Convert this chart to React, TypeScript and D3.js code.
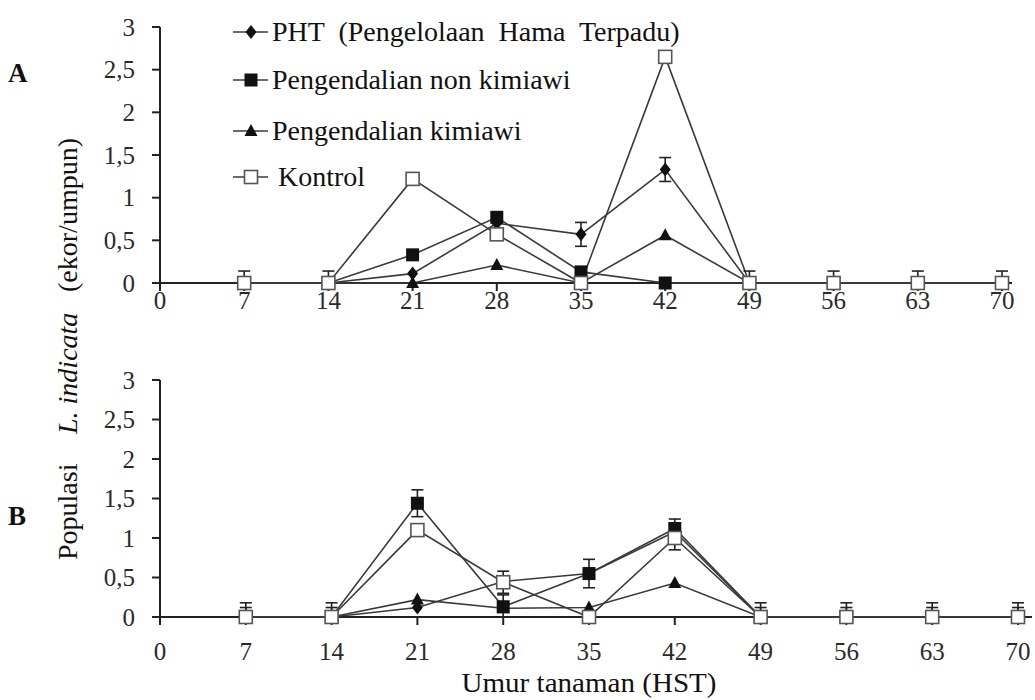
import React from "react";
import * as d3 from "d3";

const days = [7, 14, 21, 28, 35, 42, 49, 56, 63, 70];
const xTicks = [0, 7, 14, 21, 28, 35, 42, 49, 56, 63, 70];
const yTicks = [0, 0.5, 1, 1.5, 2, 2.5, 3];
const yTickLabels = ["0", "0,5", "1", "1,5", "2", "2,5", "3"];
const seriesNames = [
  "PHT (Pengelolaan Hama Terpadu)",
  "Pengendalian non kimiawi",
  "Pengendalian kimiawi",
  "Kontrol",
];

// Panel A
const aPHT = [0, 0, 0.11, 0.7, 0.57, 1.33, 0, 0, 0, 0];
const aNonKimiawi = [0, 0, 0.33, 0.77, 0.13, 0, 0, 0, 0, 0];
const aKimiawi = [0, 0, 0, 0.21, 0, 0.56, 0, 0, 0, 0];
const aKontrol = [0, 0, 1.22, 0.57, 0, 2.65, 0, 0, 0, 0];
const aPHTErr = [0, 0, 0, 0, 0.14, 0.14, 0, 0, 0, 0];
const aNonKimiawiErr = [0, 0, 0, 0, 0, 0, 0, 0, 0, 0];
const aKimiawiErr = [0, 0, 0, 0, 0, 0, 0, 0, 0, 0];
const aKontrolErr = [0.14, 0.14, 0, 0, 0, 0, 0.14, 0.14, 0.14, 0.14];

// Panel B
const bPHT = [0, 0, 0.12, 0.45, 0.55, 1.08, 0, 0, 0, 0];
const bNonKimiawi = [0, 0, 1.44, 0.13, 0.55, 1.12, 0, 0, 0, 0];
const bKimiawi = [0, 0, 0.22, 0.11, 0.12, 0.43, 0, 0, 0, 0];
const bKontrol = [0, 0, 1.1, 0.44, 0, 1.0, 0, 0, 0, 0];
const bPHTErr = [0.12, 0.12, 0, 0, 0, 0, 0.12, 0.12, 0.12, 0.12];
const bNonKimiawiErr = [0, 0, 0.17, 0.15, 0.18, 0.12, 0, 0, 0, 0];
const bKimiawiErr = [0, 0, 0, 0, 0, 0, 0, 0, 0, 0];
const bKontrolErr = [0.18, 0.18, 0, 0.14, 0, 0.15, 0.18, 0.18, 0.18, 0.18];

const FONT = '"Liberation Serif", "Times New Roman", Times, serif';
const LINE = "#3a3a3a";

type Kind = "diamond" | "square" | "triangle" | "open";

function Marker({ kind, x, y }: { kind: Kind; x: number; y: number }) {
  if (kind === "diamond") {
    return <path d={`M${x},${y - 7}L${x + 5.5},${y}L${x},${y + 7}L${x - 5.5},${y}Z`} fill="#111" />;
  }
  if (kind === "square") {
    return <rect x={x - 6.5} y={y - 6.5} width={13} height={13} fill="#111" />;
  }
  if (kind === "triangle") {
    return <path d={`M${x},${y - 7}L${x + 6.5},${y + 5}L${x - 6.5},${y + 5}Z`} fill="#111" />;
  }
  return <rect x={x - 6.5} y={y - 6.5} width={13} height={13} fill="#fff" stroke="#555" strokeWidth={1.6} />;
}

type Series = { kind: Kind; values: number[]; err: number[] };

function Panel({
  series,
  x,
  y,
  axisEnd,
  labelBaseline,
}: {
  series: Series[];
  x: d3.ScaleLinear<number, number>;
  y: d3.ScaleLinear<number, number>;
  axisEnd: number;
  labelBaseline: number;
}) {
  const line = d3
    .line<number>()
    .x((_, i) => x(days[i]))
    .y((d) => y(d));
  const x0 = x(0);
  const y0 = y(0);
  return (
    <g>
      <line x1={x0} x2={x0} y1={y(3)} y2={y0 + 8} stroke="#222" strokeWidth={2} />
      <line x1={x0} x2={axisEnd} y1={y0} y2={y0} stroke="#222" strokeWidth={2} />
      {yTicks.map((t, i) => (
        <g key={"yt" + i}>
          <line x1={x0 - 8} x2={x0} y1={y(t)} y2={y(t)} stroke="#222" strokeWidth={2} />
          <text
            x={x0 - 25}
            y={y(t)}
            dy="0.35em"
            textAnchor="end"
            style={{ fontFamily: FONT }}
            fontSize={25}
            fill="#2a2a2a"
          >
            {yTickLabels[i]}
          </text>
        </g>
      ))}
      {xTicks.map((t) => (
        <g key={"xt" + t}>
          <line x1={x(t)} x2={x(t)} y1={y0} y2={y0 + 8} stroke="#222" strokeWidth={2} />
          <text
            x={x(t)}
            y={labelBaseline}
            textAnchor="middle"
            style={{ fontFamily: FONT }}
            fontSize={25}
            fill="#2a2a2a"
          >
            {t}
          </text>
        </g>
      ))}
      {series.map((s, si) => (
        <path key={"l" + si} d={line(s.values) || ""} fill="none" stroke={LINE} strokeWidth={1.6} />
      ))}
      {series.map((s, si) =>
        s.values.map((v, i) => {
          const e = s.err[i];
          if (!e) return null;
          const cx = x(days[i]);
          const top = y(v + e);
          const bot = y(Math.max(0, v - e));
          const showBot = v - e > 0;
          return (
            <g key={"e" + si + "-" + i} stroke="#222" strokeWidth={1.6}>
              <line x1={cx} x2={cx} y1={top} y2={bot} />
              <line x1={cx - 6} x2={cx + 6} y1={top} y2={top} />
              {showBot && <line x1={cx - 6} x2={cx + 6} y1={bot} y2={bot} />}
            </g>
          );
        })
      )}
      {series.map((s, si) =>
        s.values.map((v, i) => <Marker key={"m" + si + "-" + i} kind={s.kind} x={x(days[i])} y={y(v)} />)
      )}
    </g>
  );
}

export default function App() {
  const xA = d3.scaleLinear().domain([0, 70]).range([160, 1002]);
  const yA = d3.scaleLinear().domain([0, 3]).range([283, 27]);
  const xB = d3.scaleLinear().domain([0, 70]).range([160, 1018]);
  const yB = d3.scaleLinear().domain([0, 3]).range([617, 380]);

  const seriesA: Series[] = [
    { kind: "diamond", values: aPHT, err: aPHTErr },
    { kind: "triangle", values: aKimiawi, err: aKimiawiErr },
    { kind: "square", values: aNonKimiawi, err: aNonKimiawiErr },
    { kind: "open", values: aKontrol, err: aKontrolErr },
  ];
  const seriesB: Series[] = [
    { kind: "diamond", values: bPHT, err: bPHTErr },
    { kind: "square", values: bNonKimiawi, err: bNonKimiawiErr },
    { kind: "triangle", values: bKimiawi, err: bKimiawiErr },
    { kind: "open", values: bKontrol, err: bKontrolErr },
  ];

  const legendKinds: Kind[] = ["diamond", "square", "triangle", "open"];
  const legendY = [32, 80, 131, 177];
  const legendTextX = [272, 272, 272, 278];
  const legendWordSpacing = [7, 0, 0, 0];

  return (
    <div style={{ position: "fixed", left: 0, top: 0 }}>
      <svg width={1035} height={700} style={{ display: "block", background: "#fff" }}>
        <Panel series={seriesA} x={xA} y={yA} axisEnd={1012} labelBaseline={309} />
        <Panel series={seriesB} x={xB} y={yB} axisEnd={1032} labelBaseline={660} />

        {seriesNames.map((name, i) => (
          <g key={"lg" + i}>
            <line x1={233} x2={268} y1={legendY[i]} y2={legendY[i]} stroke={LINE} strokeWidth={1.6} />
            <Marker kind={legendKinds[i]} x={251} y={legendY[i]} />
            <text
              x={legendTextX[i]}
              y={legendY[i] + 9}
              style={{ fontFamily: FONT, wordSpacing: legendWordSpacing[i] + "px" }}
              fontSize={28}
              fill="#111"
            >
              {name}
            </text>
          </g>
        ))}

        <text x={8} y={82} style={{ fontFamily: FONT }} fontSize={27} fontWeight="bold" fill="#111">
          A
        </text>
        <text x={8} y={525} style={{ fontFamily: FONT }} fontSize={27} fontWeight="bold" fill="#111">
          B
        </text>

        <g style={{ fontFamily: FONT }} fontSize={28} fill="#111">
          <text transform="translate(77,560) rotate(-90)" textAnchor="start">
            Populasi
          </text>
          <text transform="translate(77,434) rotate(-90)" textAnchor="start" fontStyle="italic">
            L. indicata
          </text>
          <text transform="translate(77,138) rotate(-90)" textAnchor="end">
            (ekor/umpun)
          </text>
        </g>

        <text
          x={589}
          y={692}
          textAnchor="middle"
          style={{ fontFamily: FONT }}
          fontSize={27}
          fill="#111"
          textLength={255}
          lengthAdjust="spacingAndGlyphs"
        >
          Umur tanaman (HST)
        </text>
      </svg>
    </div>
  );
}
